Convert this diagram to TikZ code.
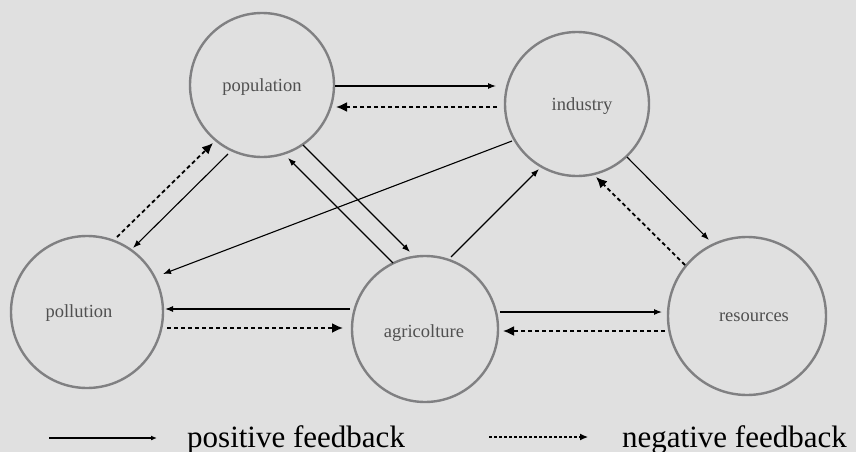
\documentclass[tikz,border=0pt]{standalone}
\usepackage{fontspec}
\setmainfont{Liberation Serif}
\usetikzlibrary{arrows.meta,calc}
\definecolor{bg}{RGB}{224,224,224}
\definecolor{ring}{RGB}{128,128,130}
\definecolor{lbl}{RGB}{80,80,80}
\begin{document}
\begin{tikzpicture}[x=1pt,y=-1pt,
  stage/.style={circle,draw=ring,line width=2.4pt,inner sep=0,outer sep=0,minimum size=#1},
  lab/.style={font=\fontsize{18.5}{20}\selectfont,text=lbl,inner sep=0,anchor=base},
  legtxt/.style={font=\fontsize{31}{34}\selectfont,text=black,inner sep=0,anchor=base west},
  posfb/.style={line width=1.1pt,-{Latex[length=8pt,width=6pt]}},
  negfb/.style={line width=1.8pt,dash pattern=on 4pt off 3pt,-{Latex[length=11pt,width=10pt]}},
]
\fill[bg] (0,0) rectangle (856,452);
\useasboundingbox (0,0) rectangle (856,452);

\node[stage=144] (pop) at (262,85) {};
\node[stage=144] (ind) at (577,104) {};
\node[stage=152] (pol) at (87,312) {};
\node[stage=146] (agr) at (425,329) {};
\node[stage=158] (res) at (747,316) {};

\node[lab] (popT) at (262,92) {population};
\node[lab] (indT) at (582,110) {industry};
\node[lab] (polT) at (79,317) {pollution};
\node[lab] (agrT) at (424,337) {agricolture};
\node[lab] (resT) at (754,321) {resources};

\draw[posfb] ($(pop)+(73,1)$) -- ($(ind)+(-81,-18)$);
\draw[negfb] ($(ind)+(-80,3)$) -- ($(pop)+(74,22)$);
\draw[negfb] ($(pol)+(30,-75)$) -- ($(pop)+(-49,58)$);
\draw[posfb] ($(pop)+(-34,69)$) -- ($(pol)+(46,-64)$);
\draw[posfb] ($(pop)+(41,60)$) -- ($(agr)+(-15,-77)$);
\draw[posfb] ($(agr)+(-32,-66)$) -- ($(pop)+(26,73)$);
\draw[posfb] ($(ind)+(-65,37)$) -- ($(pol)+(76,-38)$);
\draw[posfb] ($(agr)+(26,-72)$) -- ($(ind)+(-38,65)$);
\draw[posfb] ($(ind)+(50,53)$) -- ($(res)+(-38,-76)$);
\draw[negfb] ($(res)+(-62,-51)$) -- ($(ind)+(19,73)$);
\draw[posfb] ($(agr)+(75,-17)$) -- ($(res)+(-85,-4)$);
\draw[negfb] ($(res)+(-82,15)$) -- ($(agr)+(78,2)$);
\draw[posfb] ($(agr)+(-75,-20)$) -- ($(pol)+(78,-3)$);
\draw[negfb] ($(pol)+(80,16)$) -- ($(agr)+(-82,-1)$);

\coordinate (ps) at (49,438);
\coordinate (pe) at (157,438);
\draw[line width=1.2pt,-{Latex[length=6pt,width=5pt]}] (ps) -- (pe);
\node[legtxt] (posT) at (187,447) {positive feedback};
\coordinate (ns) at (489,437);
\coordinate (ne) at (588,437);
\draw[line width=1.2pt,dash pattern=on 3pt off 2pt,-{Latex[length=8pt,width=7pt]}] (ns) -- (ne);
\node[legtxt] (negT) at (622,447) {negative feedback};
\end{tikzpicture}
\end{document}
